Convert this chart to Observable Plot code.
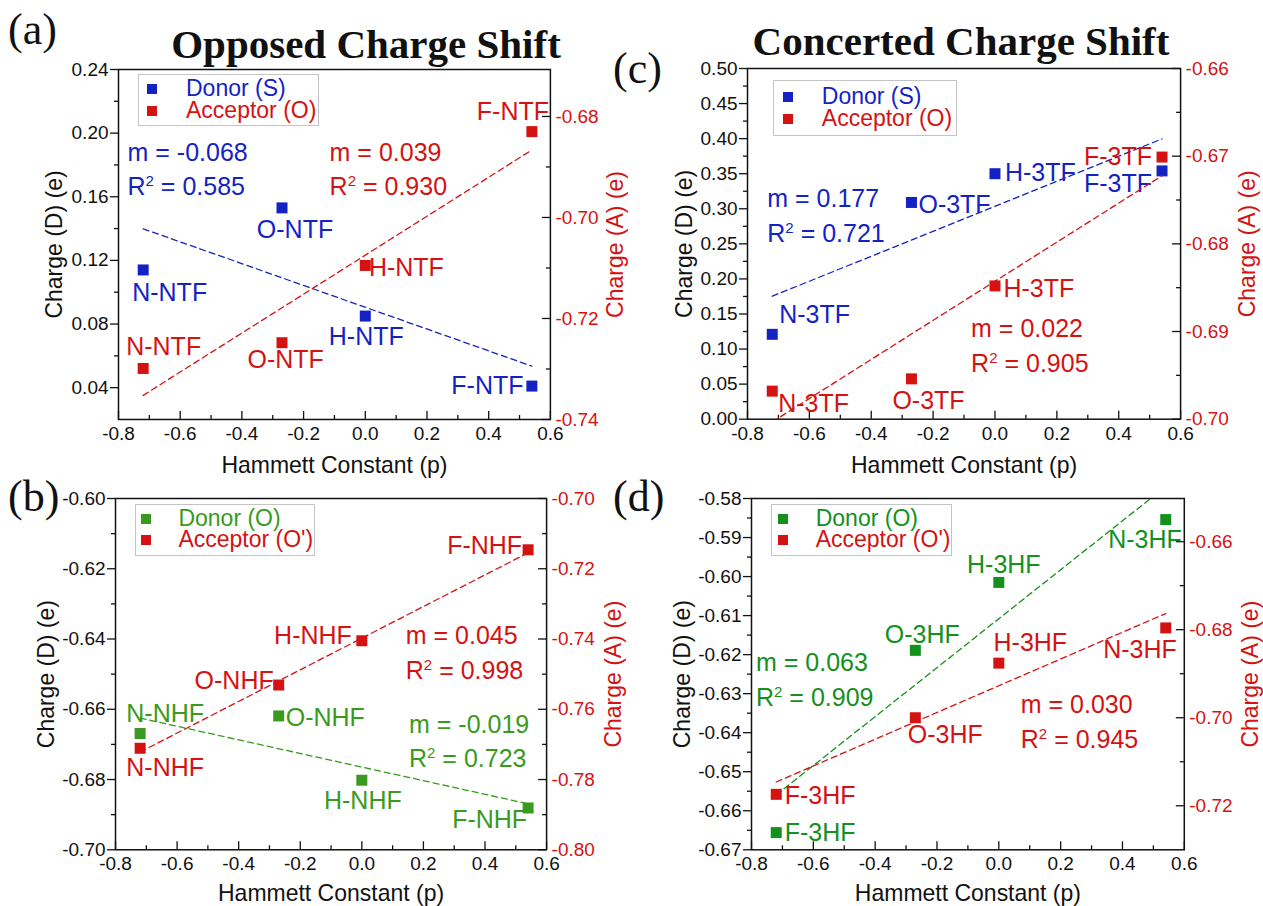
<!DOCTYPE html>
<html>
<head>
<meta charset="utf-8">
<script src="https://cdn.jsdelivr.net/npm/d3@7"></script>
<script src="https://cdn.jsdelivr.net/npm/@observablehq/plot@0.6"></script>
<style>
  body { margin: 0; background: #fff; }
  #chart { position: relative; width: 1263px; height: 906px; overflow: hidden; background: #fff;
           font-family: "Liberation Sans", Arial, Helvetica, sans-serif; }
  .abs { position: absolute; white-space: nowrap; line-height: 1; }
  .letter { font-family: "Liberation Serif", "Times New Roman", serif; font-size: 44px; color: #111; }
  .title { font-family: "Liberation Serif", "Times New Roman", serif; font-weight: bold; font-size: 41px;
           color: #111; width: 600px; text-align: center; }
  .note { font-size: 25px; }
  .note sup { font-size: 0.6em; line-height: 0; vertical-align: 0.62em; }
  .legend-box { border: 1.5px solid #c4c4c4; background: #fff; box-sizing: border-box; }
  .legend-text { font-size: 23px; line-height: 0.85; }
</style>
</head>
<body>
<div id="chart"></div>
<script>
// ---- shared axis values -------------------------------------------------
const xTicks = [-0.8, -0.6, -0.4, -0.2, 0, 0.2, 0.4, 0.6];
const hammett = [-0.72, -0.27, 0, 0.54];

// ---- (a) opposed shift, NTF series ---------------------------------------
const ntfLabels = ["N-NTF", "O-NTF", "H-NTF", "F-NTF"];
const ntfDonor = [0.114, 0.153, 0.085, 0.041];
const ntfAcceptor = [-0.7299, -0.7248, -0.7095, -0.683];
const ntfDonorFit = ["-0.068", "0.585"];
const ntfAcceptorFit = ["0.039", "0.930"];
const ntfLeftTicks = [0.04, 0.08, 0.12, 0.16, 0.20, 0.24];
const ntfRightTicks = [-0.74, -0.72, -0.70, -0.68];

// ---- (c) concerted shift, 3TF series -------------------------------------
const tfLabels = ["N-3TF", "O-3TF", "H-3TF", "F-3TF"];
const tfDonor = [0.121, 0.309, 0.350, 0.354];
const tfAcceptor = [-0.6968, -0.6954, -0.6848, -0.6701];
const tfDonorFit = ["0.177", "0.721"];
const tfAcceptorFit = ["0.022", "0.905"];
const tfLeftTicks = [0, 0.05, 0.10, 0.15, 0.20, 0.25, 0.30, 0.35, 0.40, 0.45, 0.50];
const tfRightTicks = [-0.70, -0.69, -0.68, -0.67, -0.66];

// ---- (b) opposed shift, NHF series ---------------------------------------
const nhfLabels = ["N-NHF", "O-NHF", "H-NHF", "F-NHF"];
const nhfDonor = [-0.6669, -0.6619, -0.6802, -0.6881];
const nhfAcceptor = [-0.7711, -0.7531, -0.7405, -0.7146];
const nhfDonorFit = ["-0.019", "0.723"];
const nhfAcceptorFit = ["0.045", "0.998"];
const nhfLeftTicks = [-0.70, -0.68, -0.66, -0.64, -0.62, -0.60];
const nhfRightTicks = [-0.80, -0.78, -0.76, -0.74, -0.72, -0.70];

// ---- (d) concerted shift, 3HF series -------------------------------------
const hfLabels = ["F-3HF", "O-3HF", "H-3HF", "N-3HF"];
const hfDonor = [-0.6656, -0.6189, -0.6015, -0.5854];
const hfAcceptor = [-0.7174, -0.7000, -0.6876, -0.6796];
const hfDonorFit = ["0.063", "0.909"];
const hfAcceptorFit = ["0.030", "0.945"];
const hfLeftTicks = [-0.67, -0.66, -0.65, -0.64, -0.63, -0.62, -0.61, -0.60, -0.59, -0.58];
const hfRightTicks = [-0.72, -0.70, -0.68, -0.66];

// ---- styling ---------------------------------------------------------------
const FONT = '"Liberation Sans", Arial, Helvetica, sans-serif';
const INK = "#111";
const BLUE = "#1422c4";
const RED = "#d41212";
const GREEN_B = "#3a9a20";
const GREEN_D = "#14901c";

const panels = [
  {
    letter: "(a)", letterPos: [8, 8],
    frame: [118.3, 69, 550.2, 419],
    labels: ntfLabels, donor: ntfDonor, acceptor: ntfAcceptor,
    leftDomain: [0.02, 0.24], leftTicks: ntfLeftTicks,
    rightDomain: [-0.74, -0.6707], rightTicks: ntfRightTicks,
    donorColor: BLUE, legend: ["Donor (S)", "Acceptor (O)"],
    legendBox: [138.3, 74.3, 318.8, 126], legendSwatchX: 152.4, legendTextX: 186, legendRows: [89, 111],
    donorPlace: [["middle", 26.5, 23], ["middle", 13, 22], ["middle", 1, 21], ["end", -8.4, 0]],
    acceptorPlace: [["middle", 20.5, -21], ["middle", 3.6, 17], ["start", 3.6, 3], ["middle", -19, -20]],
    donorFit: ntfDonorFit, acceptorFit: ntfAcceptorFit,
    donorNote: [127.5, 152, 186], acceptorNote: [329.6, 152, 186],
    titleOffsets: [64, 65], xTitleOffset: 46
  },
  {
    letter: "(c)", letterPos: [613, 47],
    frame: [747.1, 68.3, 1180.2, 419],
    labels: tfLabels, donor: tfDonor, acceptor: tfAcceptor,
    leftDomain: [0, 0.5], leftTicks: tfLeftTicks,
    rightDomain: [-0.70, -0.66], rightTicks: tfRightTicks,
    donorColor: BLUE, legend: ["Donor (S)", "Acceptor (O)"],
    legendBox: [773.3, 80, 957, 136], legendSwatchX: 788.3, legendTextX: 821.8, legendRows: [97, 119],
    donorPlace: [["start", 7, -19], ["start", 7, 3], ["start", 10, -1], ["end", -10, 13]],
    acceptorPlace: [["start", 6, 13], ["middle", 17, 22], ["start", 8.5, 3], ["end", -10, 0]],
    donorFit: tfDonorFit, acceptorFit: tfAcceptorFit,
    donorNote: [767.3, 198, 233], acceptorNote: [971.1, 328, 363],
    titleOffsets: [63, 67], xTitleOffset: 46
  },
  {
    letter: "(b)", letterPos: [8, 475],
    frame: [115.1, 497.7, 546.2, 849],
    labels: nhfLabels, donor: nhfDonor, acceptor: nhfAcceptor,
    leftDomain: [-0.70, -0.60], leftTicks: nhfLeftTicks,
    rightDomain: [-0.80, -0.70], rightTicks: nhfRightTicks,
    donorColor: GREEN_B, legend: ["Donor (O)", "Acceptor (O')"],
    legendBox: [135.1, 504.3, 314.8, 556], legendSwatchX: 145.6, legendTextX: 178.4, legendRows: [519, 540],
    donorPlace: [["middle", 25, -20], ["start", 7, 2], ["middle", 1, 21], ["end", -1, 12]],
    acceptorPlace: [["middle", 25, 20], ["end", -5, -4], ["end", -10, -5], ["end", -6, -4]],
    donorFit: nhfDonorFit, acceptorFit: nhfAcceptorFit,
    donorNote: [409, 724, 758], acceptorNote: [405.8, 635, 670],
    titleOffsets: [69, 67], xTitleOffset: 44
  },
  {
    letter: "(d)", letterPos: [613, 475],
    frame: [751.1, 497.7, 1183.9, 849],
    labels: hfLabels, donor: hfDonor, acceptor: hfAcceptor,
    leftDomain: [-0.67, -0.58], leftTicks: hfLeftTicks,
    rightDomain: [-0.73, -0.6502], rightTicks: hfRightTicks,
    donorColor: GREEN_D, legend: ["Donor (O)", "Acceptor (O')"],
    legendBox: [771.3, 504.3, 951.7, 556], legendSwatchX: 782.6, legendTextX: 815.7, legendRows: [519, 540],
    donorPlace: [["start", 8.5, 0], ["middle", 7, -15], ["middle", 5, -17], ["end", 16, 20]],
    acceptorPlace: [["start", 8.5, 2], ["middle", 30, 17], ["middle", 31.5, -20], ["end", 11, 22]],
    donorFit: hfDonorFit, acceptorFit: hfAcceptorFit,
    donorNote: [756, 662.5, 697.5], acceptorNote: [1020.8, 704, 739],
    titleOffsets: [69, 66], xTitleOffset: 44
  }
];

const chart = document.getElementById("chart");
const minorOf = ticks => d3.pairs([...ticks].sort((a, b) => a - b)).map(([a, b]) => (a + b) / 2);
const xMinor = minorOf(xTicks);

function place(el, left, top) {
  el.style.left = left + "px";
  el.style.top = top + "px";
  chart.appendChild(el);
  return el;
}

function div(cls, text, color) {
  const el = document.createElement("div");
  el.className = "abs " + cls;
  if (text != null) el.textContent = text;
  if (color) el.style.color = color;
  return el;
}

function fitNote(x, cyM, cyR, fit, color) {
  const fs = 25;
  place(div("note", "m = " + fit[0], color), x, cyM - 0.49 * fs);
  const r = div("note", null, color);
  r.append("R");
  const sup = document.createElement("sup");
  sup.textContent = "2";
  r.append(sup, " = " + fit[1]);
  place(r, x, cyR - 0.49 * fs);
}

function drawPanel(p) {
  const [L, T, R, B] = p.frame;
  const ML = 80, MR = 80, MT = 10, MB = 60;
  const innerW = R - L, innerH = B - T;
  const width = innerW + ML + MR, height = innerH + MT + MB;
  const rows = hammett.map((x, i) => ({x, label: p.labels[i], donor: p.donor[i], acceptor: p.acceptor[i]}));

  const common = {
    width, height,
    marginLeft: ML, marginRight: MR, marginTop: MT, marginBottom: MB,
    x: {domain: [-0.8, 0.6]}
  };
  const baseStyle = {background: "transparent", fontFamily: FONT, fontSize: "19px", overflow: "visible"};

  const pointLabels = (key, placeList, color) => rows.map((row, i) => {
    const [anchor, dx, dy] = placeList[i];
    return Plot.text([row], {x: "x", y: key, text: "label", textAnchor: anchor, lineAnchor: "middle",
                             dx, dy, fill: color, fontSize: 25});
  });

  // donor series on the left axis, with the shared frame and x axis
  const donorPlot = Plot.plot({
    ...common,
    style: {...baseStyle, color: INK},
    y: {domain: p.leftDomain},
    marks: [
      Plot.frame({stroke: INK, strokeWidth: 1.5}),
      Plot.tickX(xTicks, {x: d => d, insetTop: innerH - 8, stroke: INK, strokeWidth: 1.3}),
      Plot.tickX(xMinor, {x: d => d, insetTop: innerH - 4, stroke: INK, strokeWidth: 1.3}),
      Plot.axisX({ticks: xTicks, tickSize: 0, tickPadding: 7, tickFormat: d => d.toFixed(1), label: null}),
      Plot.axisY({anchor: "left", ticks: p.leftTicks, tickSize: 8, tickPadding: 2, strokeWidth: 1.3,
                  tickFormat: d => d.toFixed(2), label: null}),
      Plot.axisY({anchor: "left", ticks: minorOf(p.leftTicks), tickSize: 4, strokeWidth: 1.3,
                  tickFormat: () => "", label: null}),
      Plot.linearRegressionY(rows, {x: "x", y: "donor", ci: 0, stroke: p.donorColor, strokeWidth: 1.3,
                                     strokeDasharray: "6,4", clip: true}),
      Plot.dot(rows, {x: "x", y: "donor", symbol: "square", r: 6.2, fill: p.donorColor}),
      ...pointLabels("donor", p.donorPlace, p.donorColor),
      Plot.text(["Charge (D) (e)"], {text: d => d, frameAnchor: "left", dx: -p.titleOffsets[0], rotate: -90,
                                      textAnchor: "middle", lineAnchor: "middle", fontSize: 23, fill: INK}),
      Plot.text(["Hammett Constant (p)"], {text: d => d, frameAnchor: "bottom", dy: p.xTitleOffset,
                                            textAnchor: "middle", lineAnchor: "middle", fontSize: 23, fill: INK})
    ]
  });

  // acceptor series on the right axis
  const acceptorPlot = Plot.plot({
    ...common,
    style: {...baseStyle, color: RED},
    x: {domain: [-0.8, 0.6], axis: null},
    y: {domain: p.rightDomain},
    marks: [
      Plot.tickY(p.rightTicks, {y: d => d, insetLeft: innerW - 8, stroke: INK, strokeWidth: 1.3}),
      Plot.tickY(minorOf(p.rightTicks), {y: d => d, insetLeft: innerW - 4, stroke: INK, strokeWidth: 1.3}),
      Plot.axisY({anchor: "right", ticks: p.rightTicks, tickSize: 0, tickPadding: 5,
                  tickFormat: d => d.toFixed(2), label: null}),
      Plot.linearRegressionY(rows, {x: "x", y: "acceptor", ci: 0, stroke: RED, strokeWidth: 1.3,
                                     strokeDasharray: "6,4", clip: true}),
      Plot.dot(rows, {x: "x", y: "acceptor", symbol: "square", r: 6.2, fill: RED}),
      ...pointLabels("acceptor", p.acceptorPlace, RED),
      Plot.text(["Charge (A) (e)"], {text: d => d, frameAnchor: "right", dx: p.titleOffsets[1], rotate: -90,
                                      textAnchor: "middle", lineAnchor: "middle", fontSize: 23, fill: RED})
    ]
  });

  for (const svg of [donorPlot, acceptorPlot]) {
    svg.style.position = "absolute";
    svg.style.maxWidth = "none";
    place(svg, L - ML, T - MT);
  }

  // legend
  const [bx0, by0, bx1, by1] = p.legendBox;
  const box = div("legend-box");
  box.style.width = (bx1 - bx0) + "px";
  box.style.height = (by1 - by0) + "px";
  place(box, bx0, by0);
  const legendSize = 23, legendLine = 0.85;
  [p.donorColor, RED].forEach((color, i) => {
    const cy = p.legendRows[i];
    const sw = div("");
    sw.style.width = "10px"; sw.style.height = "10px"; sw.style.background = color;
    place(sw, p.legendSwatchX - 5, cy - 5);
    place(div("legend-text", p.legend[i], color), p.legendTextX, cy - (legendLine / 2 - 0.01) * legendSize);
  });

  // slope and R² of each fit
  fitNote(p.donorNote[0], p.donorNote[1], p.donorNote[2], p.donorFit, p.donorColor);
  fitNote(p.acceptorNote[0], p.acceptorNote[1], p.acceptorNote[2], p.acceptorFit, RED);

  place(div("letter", p.letter), p.letterPos[0], p.letterPos[1]);
}

panels.forEach(drawPanel);

// column headings
place(div("title", "Opposed Charge Shift"), 366 - 300, 24);
place(div("title", "Concerted Charge Shift"), 961 - 300, 21);
</script>
</body>
</html>
